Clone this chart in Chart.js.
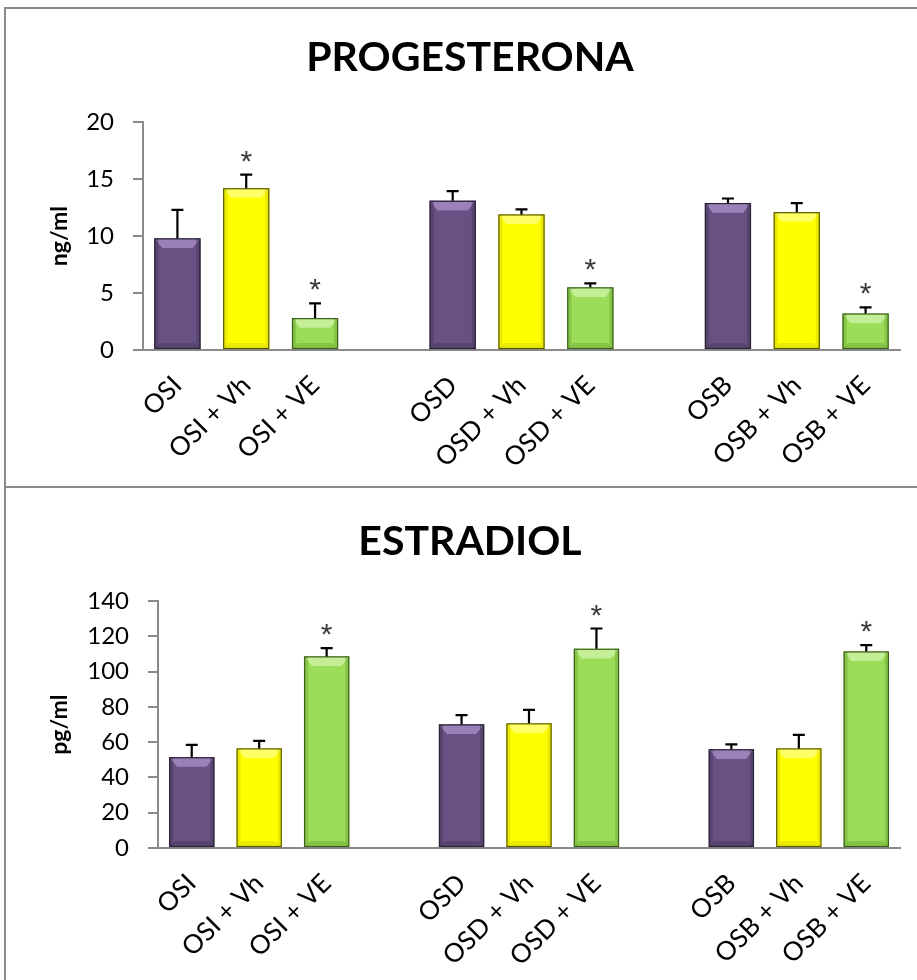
<!DOCTYPE html>
<html>
<head>
<meta charset="utf-8">
<script src="https://cdn.jsdelivr.net/npm/chart.js@4"></script>
<style>
  html, body { margin: 0; padding: 0; background: #fff; }
  body { width: 917px; height: 980px; overflow: hidden; position: relative; }
  .frame { position: absolute; left: 4px; width: 930px; border-left: 2px solid #8a8a8a; border-top: 2px solid #8a8a8a; }
  #panelTop { top: 7px; height: 479px; }
  #panelBottom { top: 486px; height: 500px; }
  .frame canvas { position: absolute; left: 1px; top: 1px; }
</style>
</head>
<body>
<div class="frame" id="panelTop"><canvas id="chartP" width="910" height="478"></canvas></div>
<div class="frame" id="panelBottom"><canvas id="chartE" width="910" height="490"></canvas></div>
<script>
// Groups: left ovary (OSI), right ovary (OSD), both (OSB); blank slots separate groups
const categories = ['OSI', 'OSI + Vh', 'OSI + VE', '', 'OSD', 'OSD + Vh', 'OSD + VE', '', 'OSB', 'OSB + Vh', 'OSB + VE'];

// Progesterone (ng/ml): means, SEM and significance marks
const progesterone    = [9.8, 14.2, 2.8, null, 13.1, 11.9, 5.5, null, 12.9, 12.1, 3.2];
const progesteroneSem = [2.5, 1.2, 1.3, null, 0.85, 0.45, 0.35, null, 0.4, 0.8, 0.55];
const progesteroneSig = [false, true, true, false, false, false, true, false, false, false, true];
const progesteroneTicks = [0, 5, 10, 15, 20];

// Estradiol (pg/ml): means, SEM and significance marks
const estradiol    = [51.5, 56.5, 108.7, null, 70.1, 70.7, 113, null, 56, 56.5, 111.5];
const estradiolSem = [7, 4.3, 4.7, null, 5.3, 7.7, 11.5, null, 2.8, 7.7, 3.6];
const estradiolSig = [false, false, true, false, false, false, true, false, false, false, true];
const estradiolTicks = [0, 20, 40, 60, 80, 100, 120, 140];

// Bar palette per treatment: control, vehicle, treated
const groupColors = [
  { base: '#685283', light: '#9a82b8', dark: '#4a3a5e', edge: '#2a2235' },
  { base: '#ffff00', light: '#ffff66', dark: '#d9d900', edge: '#5a5a00' },
  { base: '#9bdc58', light: '#c4ef96', dark: '#73b03a', edge: '#3d5e1e' }
];
const colorFor = i => groupColors[i % 4 === 3 ? 0 : (i % 4)];

const FONT = 'Lato, "Open Sans", sans-serif';

// Bevelled bars, upward SEM whiskers and significance asterisks
const decorPlugin = {
  id: 'decor',
  afterDatasetsDraw(chart) {
    const { ctx } = chart;
    const meta = chart.getDatasetMeta(0);
    const ds = chart.data.datasets[0];
    const yScale = chart.scales.y;
    meta.data.forEach((bar, i) => {
      const v = ds.data[i];
      if (v === null || v === undefined) return;
      const c = colorFor(i);
      const { x, y, base, width } = bar.getProps(['x', 'y', 'base', 'width'], true);
      const l = x - width / 2, r = x + width / 2;
      const b = Math.min(6, (base - y) / 3);
      ctx.save();
      // bevel: lighter top, darker sides and bottom
      ctx.fillStyle = c.light;
      ctx.beginPath();
      ctx.moveTo(l, y); ctx.lineTo(r, y); ctx.lineTo(r - 8, y + b * 1.6); ctx.lineTo(l + 8, y + b * 1.6); ctx.closePath(); ctx.fill();
      ctx.fillStyle = c.dark;
      ctx.globalAlpha = 0.55;
      ctx.fillRect(l, y, 4, base - y);
      ctx.fillRect(r - 4, y, 4, base - y);
      ctx.beginPath();
      ctx.moveTo(l, base); ctx.lineTo(r, base); ctx.lineTo(r - 6, base - b); ctx.lineTo(l + 6, base - b); ctx.closePath(); ctx.fill();
      ctx.globalAlpha = 1;
      ctx.strokeStyle = c.edge;
      ctx.lineWidth = 1.2;
      ctx.strokeRect(l + 0.5, y + 0.5, width - 1, base - y - 1);
      // SEM whisker
      const sem = ds.sem[i];
      const top = yScale.getPixelForValue(v + sem);
      ctx.strokeStyle = '#000';
      ctx.lineWidth = 2.2;
      ctx.beginPath();
      ctx.moveTo(x, y); ctx.lineTo(x, top);
      ctx.moveTo(x - 6, top); ctx.lineTo(x + 6, top);
      ctx.stroke();
      // significance mark
      if (ds.sig[i]) {
        ctx.fillStyle = '#3a3a3a';
        ctx.font = '30px "Liberation Sans", sans-serif';
        ctx.textAlign = 'center';
        ctx.textBaseline = 'alphabetic';
        ctx.fillText('*', x, top - 4);
      }
      ctx.restore();
    });
  }
};

function makeChart(id, title, yLabel, values, sem, sig, ticks, geom) {
  return new Chart(document.getElementById(id), {
    type: 'bar',
    data: {
      labels: categories,
      datasets: [{
        data: values,
        sem: sem,
        sig: sig,
        backgroundColor: values.map((_, i) => colorFor(i).base),
        borderWidth: 0,
        barPercentage: 0.67,
        categoryPercentage: 1.0
      }]
    },
    options: {
      responsive: false,
      animation: false,
      events: [],
      layout: { padding: { left: geom.left, right: geom.right, top: 0, bottom: 0 } },
      plugins: {
        legend: { display: false },
        tooltip: { enabled: false },
        title: {
          display: true,
          text: title,
          color: '#000',
          font: { family: FONT, size: 41, weight: 'bold', lineHeight: 1.2 },
          padding: { top: geom.titleTop, bottom: geom.titleBottom }
        }
      },
      scales: {
        x: {
          grid: { display: false },
          border: { display: true, color: '#8a8a8a', width: 2 },
          ticks: {
            color: '#000',
            font: { family: FONT, size: 26 },
            maxRotation: 45, minRotation: 45,
            autoSkip: false,
            padding: 12
          },
          afterFit(scale) { scale.height = geom.xHeight; }
        },
        y: {
          min: ticks[0],
          max: ticks[ticks.length - 1],
          afterBuildTicks(scale) { scale.ticks = ticks.map(v => ({ value: v })); },
          grid: { drawOnChartArea: false, drawTicks: true, tickLength: 10, color: '#8a8a8a', lineWidth: 2 },
          border: { display: true, color: '#8a8a8a', width: 2 },
          ticks: { color: '#000', font: { family: FONT, size: 24 }, padding: 19 },
          title: {
            display: true,
            text: yLabel,
            color: '#000',
            font: { family: FONT, size: 23, weight: 'bold' },
            padding: { top: 6, bottom: 0 }
          },
          afterFit(scale) { scale.width = geom.yWidth; }
        }
      }
    },
    plugins: [decorPlugin]
  });
}

makeChart('chartP', 'PROGESTERONA', 'ng/ml', progesterone, progesteroneSem, progesteroneSig, progesteroneTicks,
  { left: 33, right: 17, titleTop: 23, titleBottom: 40, xHeight: 138, yWidth: 103 });
makeChart('chartE', 'ESTRADIOL', 'pg/ml', estradiol, estradiolSem, estradiolSig, estradiolTicks,
  { left: 33, right: 17, titleTop: 28, titleBottom: 35, xHeight: 131, yWidth: 118 });
</script>
</body>
</html>
